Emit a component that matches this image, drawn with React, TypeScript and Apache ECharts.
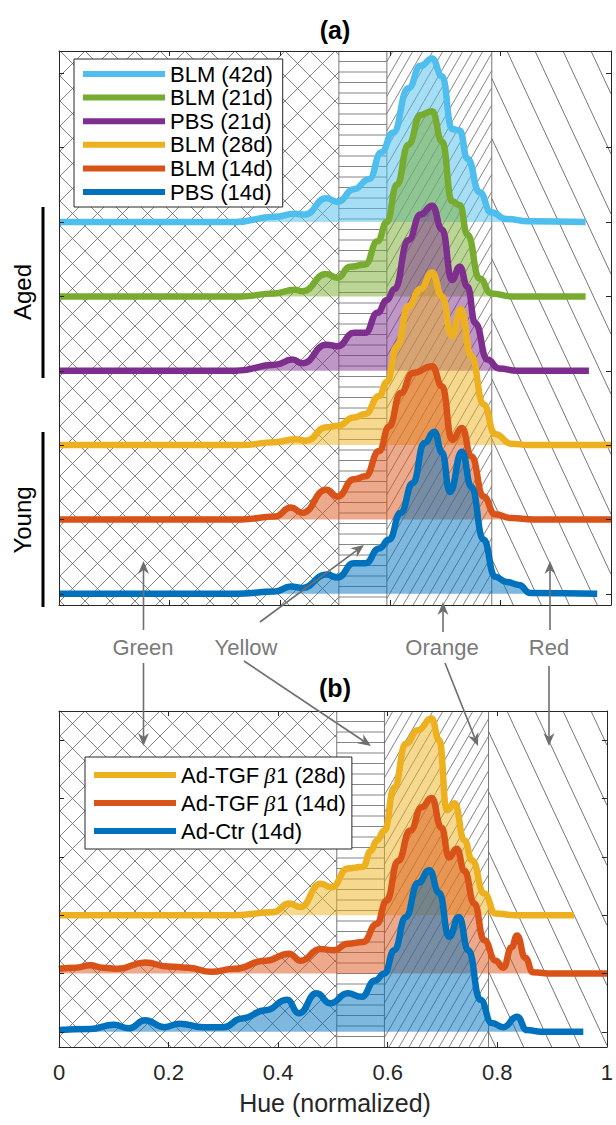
import React, { useEffect, useRef } from "react";
import * as echarts from "echarts";

const FONT = '"Liberation Sans", Arial, Helvetica, sans-serif';

// hue region edges (Green | Yellow | Orange | Red)
const regionEdges = [0, 0.507, 0.594, 0.784, 1];

// x tick values
const xTicks = [0, 0.2, 0.4, 0.6, 0.8, 1];

// Panel (a) – series in legend order (top to bottom), [hue, density]
const namesA = ["BLM (42d)", "BLM (21d)", "PBS (21d)", "BLM (28d)", "BLM (14d)", "PBS (14d)"];
const colorsA = ["#4DBEEE", "#77AC30", "#7E2F8E", "#EDB120", "#D95319", "#0072BD"];
const offsetsA = [5, 4, 3, 2, 1, 0];

const agedBLM42 = [[0,0],[0.32,0],[0.39,0.07],[0.427,0.11],[0.445,0.1],[0.484,0.32],[0.505,0.27],[0.534,0.44],[0.562,0.58],[0.584,0.94],[0.605,1.2],[0.633,1.8],[0.655,2.1],[0.676,2.2],[0.694,1.96],[0.712,1.25],[0.726,1.23],[0.74,0.85],[0.762,0.4],[0.783,0.13],[0.811,0.04],[0.85,0.01],[0.954,0]];
const agedBLM21 = [[0,0],[0.33,0],[0.39,0.04],[0.427,0.09],[0.441,0.07],[0.484,0.3],[0.505,0.25],[0.527,0.4],[0.555,0.43],[0.577,0.74],[0.594,1.0],[0.612,1.5],[0.633,2.04],[0.655,2.44],[0.676,2.49],[0.694,2.08],[0.712,1.28],[0.726,1.23],[0.74,0.83],[0.762,0.24],[0.783,0.04],[0.82,0],[0.954,0]];
const agedPBS21 = [[0,0],[0.32,0],[0.391,0.08],[0.423,0.15],[0.441,0.1],[0.484,0.35],[0.505,0.33],[0.534,0.51],[0.555,0.51],[0.577,0.78],[0.594,0.95],[0.608,1.1],[0.633,1.76],[0.655,2.1],[0.676,2.22],[0.694,1.9],[0.712,1.22],[0.726,1.4],[0.74,1.13],[0.754,0.64],[0.776,0.15],[0.797,0.03],[0.83,0],[0.96,0]];
const youngBLM28 = [[0,0],[0.33,0],[0.391,0.04],[0.427,0.08],[0.448,0.06],[0.484,0.24],[0.505,0.26],[0.534,0.37],[0.555,0.42],[0.58,0.66],[0.594,0.85],[0.612,1.33],[0.633,1.87],[0.655,2.1],[0.676,2.32],[0.694,2.0],[0.712,1.47],[0.728,1.83],[0.747,1.2],[0.769,0.55],[0.79,0.15],[0.819,0.02],[0.85,0],[1,0]];
const youngBLM14 = [[0,0],[0.33,0],[0.391,0.04],[0.42,0.16],[0.441,0.09],[0.484,0.4],[0.505,0.31],[0.534,0.54],[0.555,0.58],[0.58,0.92],[0.598,1.25],[0.619,1.7],[0.641,1.97],[0.676,2.06],[0.694,1.79],[0.712,1.07],[0.73,1.23],[0.747,0.85],[0.769,0.31],[0.79,0.07],[0.819,0.02],[0.86,0],[1,0]];
const youngPBS14 = [[0,0],[0.32,0],[0.391,0.03],[0.42,0.1],[0.441,0.08],[0.484,0.26],[0.505,0.22],[0.534,0.41],[0.555,0.41],[0.58,0.61],[0.598,0.73],[0.619,1.09],[0.641,1.49],[0.662,2.03],[0.68,2.18],[0.694,1.9],[0.708,1.37],[0.73,1.91],[0.747,1.44],[0.769,0.73],[0.79,0.23],[0.811,0.16],[0.833,0.12],[0.854,0.01],[0.975,0]];
const seriesA = [agedBLM42, agedBLM21, agedPBS21, youngBLM28, youngBLM14, youngPBS14];

// Panel (b)
const namesB = ["Ad-TGFβ1 (28d)", "Ad-TGFβ1 (14d)", "Ad-Ctr (14d)"];
const colorsB = ["#EDB120", "#D95319", "#0072BD"];
const offsetsB = [2, 1, 0];

const tgf28 = [[0,0],[0.32,0],[0.391,0.05],[0.42,0.2],[0.441,0.14],[0.477,0.54],[0.498,0.48],[0.527,0.8],[0.555,0.83],[0.569,1.1],[0.58,1.28],[0.594,1.45],[0.612,2.19],[0.633,2.94],[0.655,3.17],[0.68,3.37],[0.694,3.0],[0.708,1.8],[0.722,1.92],[0.74,1.28],[0.754,0.94],[0.776,0.37],[0.797,0.03],[0.83,0],[0.94,0]];
const tgf14 = [[0,0.08],[0.03,0.1],[0.057,0.14],[0.08,0.1],[0.107,0.08],[0.157,0.19],[0.2,0.12],[0.235,0.1],[0.278,0.03],[0.32,0.08],[0.377,0.22],[0.42,0.34],[0.441,0.22],[0.477,0.42],[0.502,0.4],[0.527,0.51],[0.555,0.54],[0.58,0.85],[0.598,1.25],[0.619,1.93],[0.641,2.45],[0.662,2.85],[0.68,3.01],[0.698,2.5],[0.712,1.99],[0.726,2.14],[0.74,1.76],[0.758,1.2],[0.776,0.57],[0.797,0.22],[0.811,0.1],[0.826,0.45],[0.836,0.65],[0.851,0.27],[0.865,0.02],[0.9,0],[1,0]];
const ctr14 = [[0,0.03],[0.057,0.05],[0.1,0.12],[0.128,0.06],[0.157,0.2],[0.192,0.08],[0.22,0.14],[0.263,0.08],[0.3,0.08],[0.334,0.23],[0.377,0.37],[0.416,0.55],[0.438,0.32],[0.47,0.66],[0.495,0.49],[0.527,0.66],[0.552,0.6],[0.577,0.88],[0.594,1.0],[0.612,1.4],[0.633,1.97],[0.655,2.55],[0.676,2.77],[0.694,2.38],[0.712,1.63],[0.73,1.97],[0.747,1.4],[0.769,0.55],[0.79,0.15],[0.811,0.08],[0.836,0.26],[0.854,0.03],[0.88,0],[0.957,0]];
const seriesB = [tgf28, tgf14, ctr14];

// y ranges (in offset units) and tick values
const yRangeA = [-0.15, 7.3];
const yRangeB = [-0.26, 5.5];
const yTicksA = [0, 1, 2, 3, 4, 5, 6, 7];
const yTicksB = [0, 1, 2, 3, 4, 5];

const AX = "#262626";
const HATCH = "#666666";

function clip(x1, y1, x2, y2, rx, ry, rw, rh) {
  let t0 = 0, t1 = 1;
  const dx = x2 - x1, dy = y2 - y1;
  const p = [-dx, dx, -dy, dy];
  const q = [x1 - rx, rx + rw - x1, y1 - ry, ry + rh - y1];
  for (let i = 0; i < 4; i++) {
    if (p[i] === 0) {
      if (q[i] < 0) return null;
    } else {
      const r = q[i] / p[i];
      if (p[i] < 0) {
        if (r > t1) return null;
        if (r > t0) t0 = r;
      } else {
        if (r < t0) return null;
        if (r < t1) t1 = r;
      }
    }
  }
  if (t1 - t0 < 1e-6) return null;
  return [x1 + t0 * dx, y1 + t0 * dy, x1 + t1 * dx, y1 + t1 * dy];
}

function family(rect, gridX, m, s, phase, width) {
  const out = [];
  const span = Math.abs(m) * rect.h + s * 2;
  const kStart = Math.floor((rect.x - span - gridX - phase) / s);
  const kEnd = Math.ceil((rect.x + rect.w + span - gridX - phase) / s);
  for (let k = kStart; k <= kEnd; k++) {
    const c = gridX + phase + k * s;
    const seg = clip(c, rect.y, c + m * rect.h, rect.y + rect.h, rect.x, rect.y, rect.w, rect.h);
    if (seg) {
      out.push({
        type: "line",
        shape: { x1: seg[0], y1: seg[1], x2: seg[2], y2: seg[3] },
        style: { stroke: HATCH, lineWidth: width },
        silent: true,
      });
    }
  }
  return out;
}

function horizontals(rect, s) {
  const out = [];
  for (let y = rect.y + s; y < rect.y + rect.h; y += s) {
    out.push({
      type: "line",
      shape: { x1: rect.x, y1: y, x2: rect.x + rect.w, y2: y },
      style: { stroke: HATCH, lineWidth: 0.8 },
      silent: true,
    });
  }
  return out;
}

function hatchSeries(xi, yi, yRange) {
  const data = [];
  for (let i = 0; i < regionEdges.length - 1; i++) data.push([regionEdges[i], regionEdges[i + 1], i]);
  return {
    type: "custom",
    xAxisIndex: xi,
    yAxisIndex: yi,
    silent: true,
    z: 1,
    clip: true,
    data,
    renderItem: (params, api) => {
      const x0 = api.value(0), x1 = api.value(1), kind = api.value(2);
      const tl = api.coord([x0, yRange[1]]);
      const br = api.coord([x1, yRange[0]]);
      const rect = { x: tl[0], y: tl[1], w: br[0] - tl[0], h: br[1] - tl[1] };
      const gx = params.coordSys.x;
      let children = [];
      if (kind === 0) {
        children = children.concat(family(rect, gx, 1, 25, 26, 0.8), family(rect, gx, -1, 25, 26, 0.8));
      } else if (kind === 1) {
        children = horizontals(rect, 10.5);
      } else if (kind === 2) {
        children = family(rect, gx, -Math.tan(Math.PI / 6), 10, 4, 0.8);
      } else {
        children = family(rect, gx, Math.tan((25 * Math.PI) / 180), 28, 0, 0.9);
      }
      if (x1 < 1) {
        children.push({
          type: "line",
          shape: { x1: br[0], y1: rect.y, x2: br[0], y2: rect.y + rect.h },
          style: { stroke: "#777", lineWidth: 1 },
          silent: true,
        });
      }
      return { type: "group", children };
    },
  };
}

function ridge(name, pts, off, color, xi, yi) {
  return {
    type: "line",
    name,
    xAxisIndex: xi,
    yAxisIndex: yi,
    data: pts.map((p) => [p[0], off + p[1]]),
    smooth: 0.5,
    smoothMonotone: "x",
    symbol: "none",
    showSymbol: false,
    clip: true,
    silent: true,
    z: 3,
    itemStyle: { color },
    lineStyle: { width: 6.5, color, cap: "butt", join: "round" },
    areaStyle: { origin: off, color, opacity: 0.5 },
  };
}

function xAxis(gridIndex, position, labels) {
  return {
    type: "value",
    gridIndex,
    position,
    min: xTicks[0],
    max: xTicks[xTicks.length - 1],
    interval: 0.2,
    z: 10,
    axisLine: { show: true, onZero: false, lineStyle: { color: AX, width: 1 } },
    axisTick: { show: true, inside: true, length: 5, lineStyle: { color: AX } },
    axisLabel: {
      show: labels,
      margin: 14,
      fontSize: 22,
      fontFamily: FONT,
      color: AX,
      formatter: (v) => String(Math.round(v * 10) / 10),
    },
    splitLine: { show: false },
  };
}

function yAxis(gridIndex, position, range, ticks) {
  return {
    type: "value",
    gridIndex,
    position,
    min: range[0],
    max: range[1],
    z: 10,
    axisLine: { show: true, onZero: false, lineStyle: { color: AX, width: 1 } },
    axisTick: { show: true, inside: true, length: 5, lineStyle: { color: AX }, customValues: ticks },
    axisLabel: { show: false },
    splitLine: { show: false },
  };
}

function arrow(x1, y1, x2, y2) {
  const ang = Math.atan2(y2 - y1, x2 - x1);
  const L = 13, W = 5.5, N = 9;
  const ux = Math.cos(ang), uy = Math.sin(ang);
  const px = -uy, py = ux;
  const bx = x2 - ux * L, by = y2 - uy * L;
  const nx = x2 - ux * N, ny = y2 - uy * N;
  return [
    { type: "line", shape: { x1, y1, x2: nx, y2: ny }, style: { stroke: "#6e6e6e", lineWidth: 1.6 }, silent: true, z: 20 },
    {
      type: "polygon",
      shape: { points: [[x2, y2], [bx + px * W, by + py * W], [nx, ny], [bx - px * W, by - py * W]] },
      style: { fill: "#6e6e6e" },
      silent: true,
      z: 20,
    },
  ];
}

function label(text, x, y) {
  return {
    type: "text",
    x,
    y,
    z: 20,
    silent: true,
    style: { text, fill: "#7a7a7a", font: `22px ${FONT}`, align: "center", verticalAlign: "middle" },
  };
}

export default function App() {
  const ref = useRef(null);
  useEffect(() => {
    const chart = echarts.init(ref.current, null, { renderer: "svg" });
    const series = [hatchSeries(0, 0, yRangeA), hatchSeries(2, 2, yRangeB)];
    namesA.forEach((n, i) => series.push(ridge(n, seriesA[i], offsetsA[i], colorsA[i], 0, 0)));
    namesB.forEach((n, i) => series.push(ridge(n, seriesB[i], offsetsB[i], colorsB[i], 2, 2)));

    const legendCommon = {
      orient: "vertical",
      icon: "rect",
      itemWidth: 82,
      itemHeight: 6,
      selectedMode: false,
      backgroundColor: "#fff",
      borderColor: AX,
      borderWidth: 1,
      borderRadius: 0,
      z: 15,
      textStyle: {
        fontSize: 22,
        lineHeight: 22,
        fontFamily: FONT,
        color: "#000",
        rich: {
          b: { fontSize: 22, fontFamily: '"Liberation Serif", serif', fontStyle: "italic", padding: [0, 1, 0, 5] },
        },
      },
    };

    const graphic = [
      { type: "text", x: 335, y: 30, silent: true, style: { text: "(a)", font: `bold 25px ${FONT}`, fill: "#000", align: "center", verticalAlign: "middle" } },
      { type: "text", x: 335, y: 688, silent: true, style: { text: "(b)", font: `bold 25px ${FONT}`, fill: "#000", align: "center", verticalAlign: "middle" } },
      { type: "text", x: 335, y: 1103, silent: true, style: { text: "Hue (normalized)", font: `25px ${FONT}`, fill: AX, align: "center", verticalAlign: "middle" } },
      { type: "text", x: 22, y: 292, rotation: Math.PI / 2, silent: true, style: { text: "Aged", font: `24px ${FONT}`, fill: "#000", align: "center", verticalAlign: "middle" } },
      { type: "text", x: 22, y: 520, rotation: Math.PI / 2, silent: true, style: { text: "Young", font: `24px ${FONT}`, fill: "#000", align: "center", verticalAlign: "middle" } },
      { type: "line", shape: { x1: 43, y1: 207, x2: 43, y2: 378 }, style: { stroke: "#000", lineWidth: 3 }, silent: true },
      { type: "line", shape: { x1: 43, y1: 432, x2: 43, y2: 607 }, style: { stroke: "#000", lineWidth: 3 }, silent: true },
      label("Green", 143, 647),
      label("Yellow", 246, 647),
      label("Orange", 442, 647),
      label("Red", 549, 647),
      ...arrow(143.5, 630, 143.5, 561),
      ...arrow(143.5, 663, 143.5, 746),
      ...arrow(260, 622, 364, 545),
      ...arrow(244, 661, 371, 746),
      ...arrow(443, 632, 443, 602),
      ...arrow(445, 663, 478, 746),
      ...arrow(550, 630, 550, 561),
      ...arrow(549, 666, 549, 746),
    ];

    chart.setOption({
      animation: false,
      backgroundColor: "#fff",
      textStyle: { fontFamily: FONT },
      grid: [
        { left: 59, top: 51, width: 552, height: 554, show: false },
        { left: 59, top: 711, width: 552, height: 336, show: false },
      ],
      xAxis: [xAxis(0, "bottom", false), xAxis(0, "top", false), xAxis(1, "bottom", true), xAxis(1, "top", false)],
      yAxis: [yAxis(0, "left", yRangeA, yTicksA), yAxis(0, "right", yRangeA, yTicksA), yAxis(1, "left", yRangeB, yTicksB), yAxis(1, "right", yRangeB, yTicksB)],
      legend: [
        { ...legendCommon, data: namesA, left: 74, top: 59, itemGap: 1.6, padding: [4, 10, 4, 9] },
        {
          ...legendCommon,
          data: namesB,
          left: 85,
          top: 757,
          itemGap: 6,
          padding: [7, 6, 7, 9],
          formatter: (n) => n.replace("β", "{b|β}"),
        },
      ],
      graphic,
      series,
    });
    return () => chart.dispose();
  }, []);
  return <div ref={ref} style={{ position: "absolute", left: 0, top: 0, width: 616, height: 1125 }} />;
}
